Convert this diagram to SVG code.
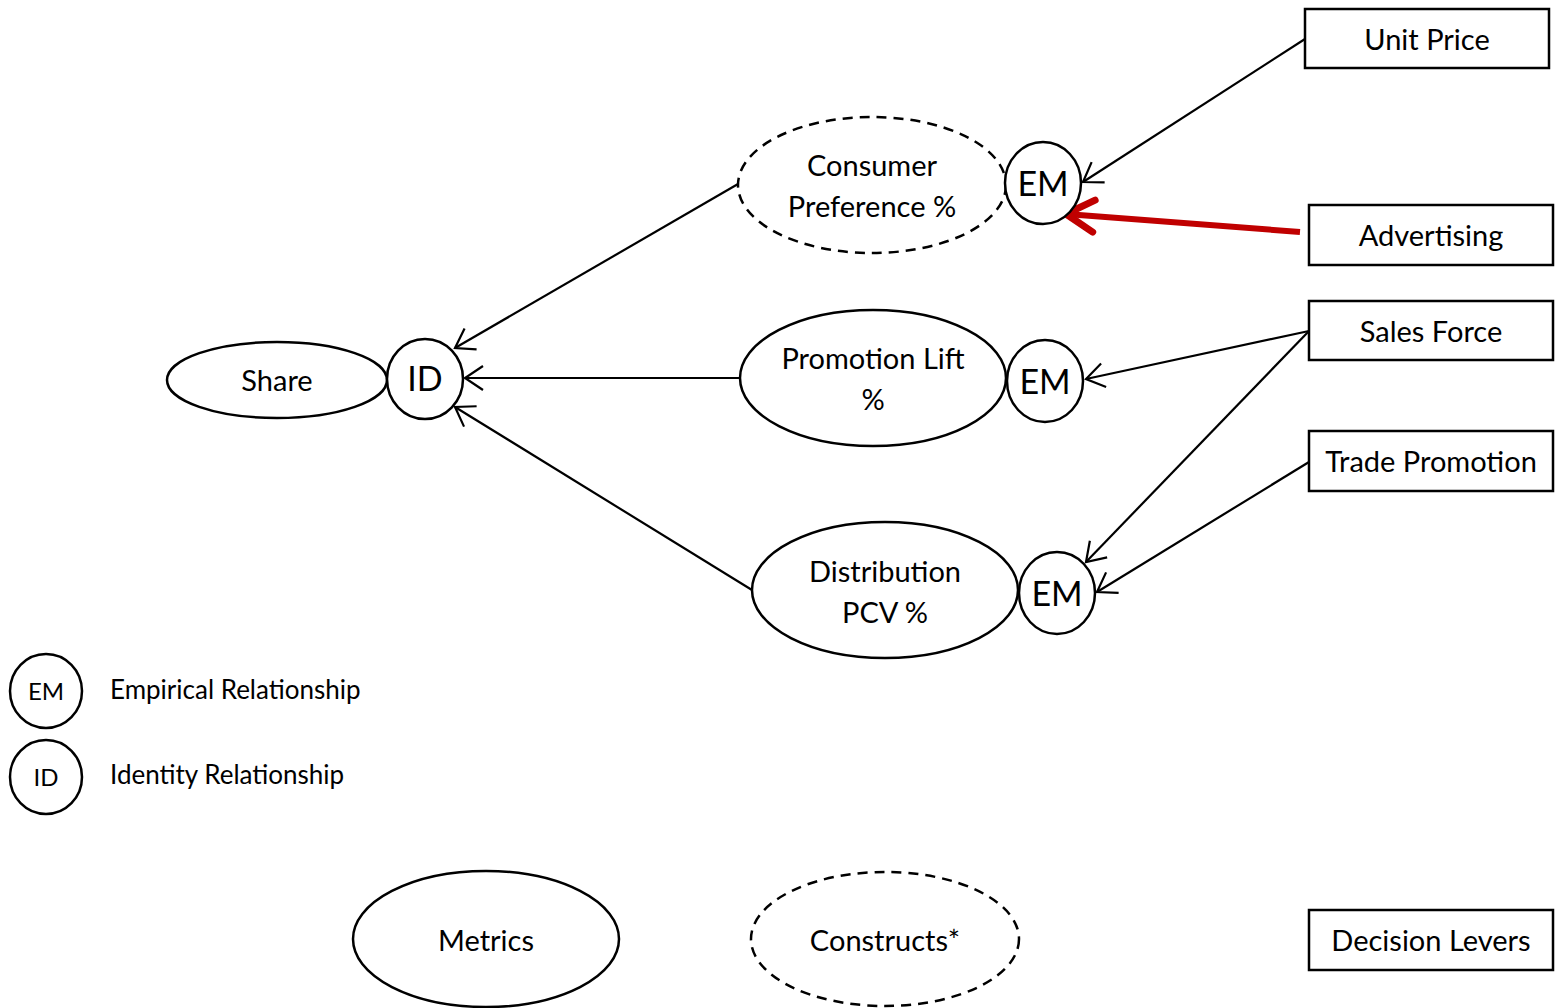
<svg xmlns="http://www.w3.org/2000/svg" width="1556" height="1008" viewBox="0 0 1556 1008">
<style>
.n{fill:#fff;stroke:#000;stroke-width:2.5}
.d{fill:#fff;stroke:#000;stroke-width:2.5;stroke-dasharray:10 7}
.t{font-family:Lato,"Open Sans",sans-serif;font-size:29px;fill:#000;text-anchor:middle}
.em{font-family:Lato,"Open Sans",sans-serif;font-size:34px;fill:#000;text-anchor:middle}
.lg{font-family:Lato,"Open Sans",sans-serif;font-size:26px;fill:#000}
.c{stroke:#000;stroke-width:2.2;fill:none}
</style>
<defs>
<marker id="a" markerUnits="userSpaceOnUse" markerWidth="24" markerHeight="28" viewBox="-20 -14 24 28" refX="0" refY="0" orient="auto">
<path d="M-18,-12 L0,0 L-18,12" fill="none" stroke="#000" stroke-width="2.2"/>
</marker>
<marker id="r" markerUnits="userSpaceOnUse" markerWidth="44" markerHeight="44" viewBox="-34 -22 44 44" refX="0" refY="0" orient="auto">
<path d="M-28,-16 L0,0 L-28,16" fill="none" stroke="#c00000" stroke-width="7" stroke-linecap="round" stroke-linejoin="round"/>
</marker>
</defs>
<g id="connectors">
<line class="c" x1="1305" y1="39" x2="1083" y2="182" marker-end="url(#a)"/>
<line x1="1300" y1="232" x2="1066" y2="214" stroke="#c00000" stroke-width="6" marker-end="url(#r)"/>
<line class="c" x1="1309" y1="331" x2="1086" y2="379" marker-end="url(#a)"/>
<line class="c" x1="1309" y1="331" x2="1086" y2="562" marker-end="url(#a)"/>
<line class="c" x1="1309" y1="462" x2="1097" y2="592" marker-end="url(#a)"/>
<line class="c" x1="738" y1="184" x2="455" y2="348" marker-end="url(#a)"/>
<line class="c" x1="740" y1="378" x2="465" y2="378" marker-end="url(#a)"/>
<line class="c" x1="752" y1="590" x2="455" y2="407" marker-end="url(#a)"/>
</g>
<g id="share"><ellipse class="n" cx="277" cy="380" rx="110" ry="38"/><text class="t" x="277" y="391">Share</text></g>
<g id="id-main"><ellipse class="n" cx="425" cy="379" rx="38" ry="40"/><text class="em" x="425" y="391">ID</text></g>
<g id="consumer-preference"><ellipse class="d" cx="872" cy="185" rx="134" ry="68"/><text class="t" x="872" y="176">Consumer</text><text class="t" x="872" y="217">Preference %</text></g>
<g id="em1"><ellipse class="n" cx="1043" cy="183" rx="38" ry="41"/><text class="em" x="1043" y="196">EM</text></g>
<g id="promotion-lift"><ellipse class="n" cx="873" cy="378" rx="133" ry="68"/><text class="t" x="873" y="369">Promotion Lift</text><text class="t" x="873" y="410">%</text></g>
<g id="em2"><ellipse class="n" cx="1045" cy="381" rx="38" ry="41"/><text class="em" x="1045" y="394">EM</text></g>
<g id="distribution"><ellipse class="n" cx="885" cy="590" rx="133" ry="68"/><text class="t" x="885" y="582">Distribution</text><text class="t" x="885" y="623">PCV %</text></g>
<g id="em3"><ellipse class="n" cx="1057" cy="593" rx="38" ry="41"/><text class="em" x="1057" y="606">EM</text></g>
<g id="unit-price"><rect class="n" x="1305" y="9" width="244" height="59"/><text class="t" x="1427" y="50">Unit Price</text></g>
<g id="advertising"><rect class="n" x="1309" y="205" width="244" height="60"/><text class="t" x="1431" y="246">Advertising</text></g>
<g id="sales-force"><rect class="n" x="1309" y="301" width="244" height="59"/><text class="t" x="1431" y="342">Sales Force</text></g>
<g id="trade-promotion"><rect class="n" x="1309" y="431" width="244" height="60"/><text class="t" x="1431" y="472">Trade Promotion</text></g>
<g id="legend-em"><ellipse class="n" cx="46" cy="691" rx="36" ry="37"/><text class="t" x="46" y="700" style="font-size:24px">EM</text><text class="lg" x="110" y="699">Empirical Relationship</text></g>
<g id="legend-id"><ellipse class="n" cx="46" cy="777" rx="36" ry="37"/><text class="t" x="46" y="786" style="font-size:24px">ID</text><text class="lg" x="110" y="784">Identity Relationship</text></g>
<g id="metrics"><ellipse class="n" cx="486" cy="939" rx="133" ry="68"/><text class="t" x="486" y="951">Metrics</text></g>
<g id="constructs"><ellipse class="d" cx="885" cy="939" rx="134" ry="67"/><text class="t" x="885" y="951">Constructs*</text></g>
<g id="decision-levers"><rect class="n" x="1309" y="910" width="244" height="60"/><text class="t" x="1431" y="951">Decision Levers</text></g>
</svg>
